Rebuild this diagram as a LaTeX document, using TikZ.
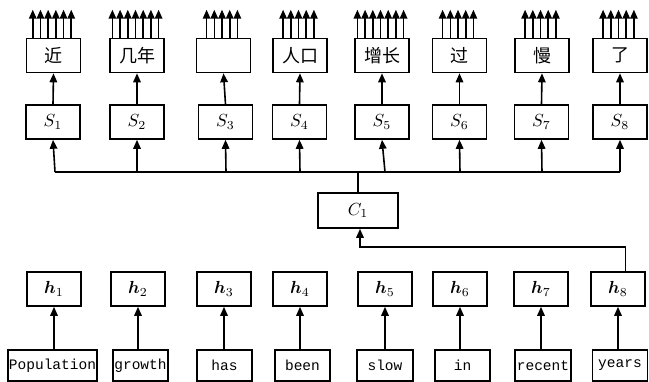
\documentclass[tikz,border=0pt]{standalone}
\usepackage{bm}
\usepackage{graphicx}
\usepackage{fontspec}
\setmonofont{Liberation Mono}
\newfontfamily\cjk{Noto Sans CJK SC}
\usetikzlibrary{arrows.meta}
\newcommand{\mylbl}[1]{\scalebox{1.75}{$#1$}}
\begin{document}
\begin{tikzpicture}[x=1pt,y=-1pt,
  box/.style={draw,line width=1.6pt,minimum width=54pt,minimum height=34pt,inner sep=0pt},
  wbox/.style={draw,line width=1.6pt,minimum height=31pt,inner sep=0pt},
  cn/.style={font=\cjk\fontsize{18}{18}\selectfont},
  wd/.style={font=\ttfamily\fontsize{14.5}{14.5}\selectfont},
  conn/.style={line width=1.6pt},
  arr/.style={line width=1.6pt,-{Triangle[width=7.5pt,length=9pt]}}]
\useasboundingbox (0,0) rectangle (649,382);
% top Chinese boxes
\foreach \i/\x/\t in {1/53.5/近,2/137/几年,3/223.5/{},4/300/人口,5/382/增长,6/459.5/过,7/542/慢,8/620/了}{
  \node[box,cn] (t\i) at (\x,55.5) {\t};
}
% S boxes
\foreach \i/\x in {1/53,2/137,3/225.5,4/299.5,5/382,6/459.5,7/541.5,8/620}{
  \node[box] (s\i) at (\x,122) {\mylbl{S_{\i}}};
  \draw[arr] (s\i.north) -- (t\i.south);
}
% output arrows above top boxes
\foreach \i/\n in {1/6,2/7,3/5,4/5,5/7,6/5,7/5,8/5}{
  \foreach \k in {1,...,\n}{
    \coordinate (o\i-\k) at ([xshift={(\k-(\n+1)/2)*7.7pt-1.5pt},yshift=28pt]t\i.north);
    \draw[arr] ([xshift={(\k-(\n+1)/2)*7.7pt-1.5pt}]t\i.north) -- (o\i-\k);
  }
}
% bus
\foreach \i/\x in {1/55,2/137,3/226,4/300,5/385,6/460,7/542,8/620}{
  \coordinate (b\i) at (\x,172);
}
\foreach \i in {1,...,8}{ \draw[arr] (b\i) -- (s\i.south); }
\draw[conn] (b1) -- (b8);
% C1
\node[draw,line width=1.6pt,minimum width=80pt,minimum height=35pt,inner sep=0pt] (c1) at (358,210.5) {\mylbl{C_1}};
\draw[conn] (c1.north) -- (c1.north |- b1);
% h boxes
\foreach \i/\x in {1/54,2/138,3/224,4/300,5/385,6/460,7/541,8/618}{
  \node[box] (h\i) at (\x,289) {\mylbl{\bm{h}_{\i}}};
}
% words
\foreach \i/\x/\w/\t in {1/52.5/89/Population,2/140.5/55/growth,3/224.5/55/has,4/302.5/55/been,5/385/56/slow,6/462.5/55/in,7/543/56/recent,8/620/55/years}{
  \node[wbox,wd,minimum width=\w pt] (w\i) at (\x,365.5) {\t};
  \draw[arr] (w\i.north -| h\i) -- (h\i.south);
}
\coordinate (k) at ([xshift=7.5pt,yshift=24pt]h8.north);
\draw[arr] ([xshift=7.5pt]h8.north) -- (k) -| ([xshift=2pt]c1.south);
\end{tikzpicture}
\end{document}
